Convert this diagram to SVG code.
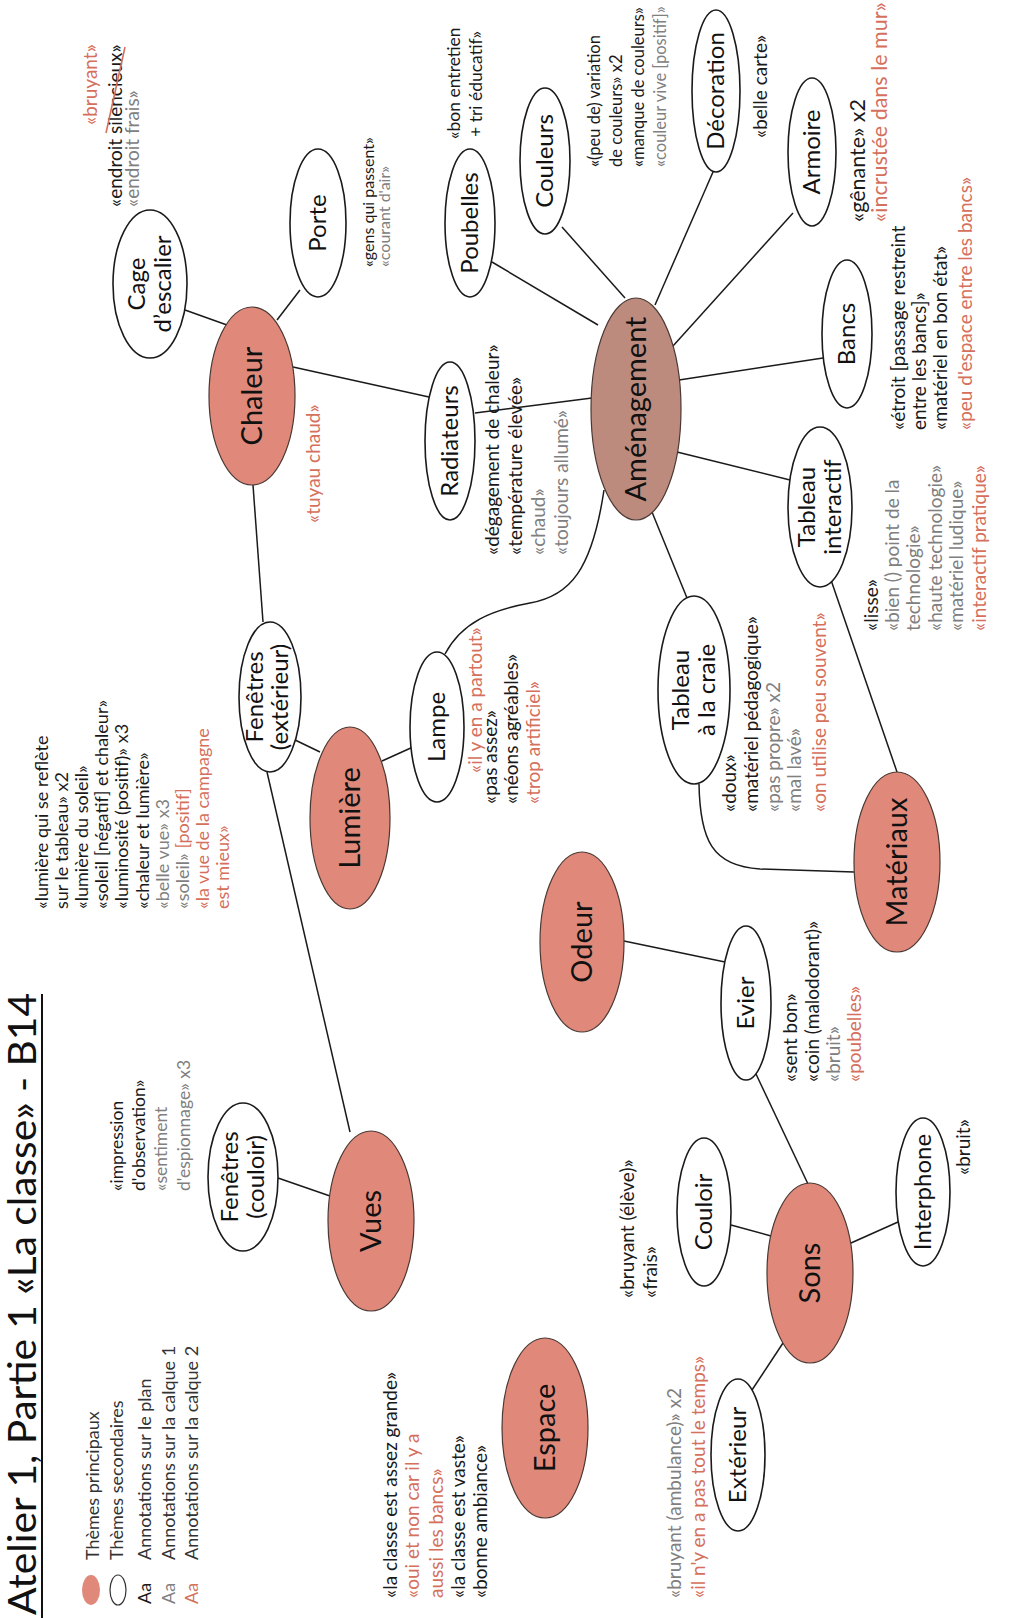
<svg xmlns="http://www.w3.org/2000/svg" width="1010" height="1618" viewBox="0 0 1010 1618">
<style>
text{font-family:Lato,'Open Sans','Liberation Sans',sans-serif}
.n{fill:#fff;stroke:#1a1a1a;stroke-width:1.6}
.m{fill:#e0897a;stroke:#4a3833;stroke-width:1.2}
.am{fill:#bd8b7e;stroke:#4a3833;stroke-width:1.2}
.nl{font-size:24px;fill:#111;text-anchor:middle}
.ml{font-size:29px;fill:#111;text-anchor:middle}
.a{font-size:19px}
.s16{font-size:16px}
.s165{font-size:16.5px}
.s17{font-size:17.5px}
.s18{font-size:18px}
.s21{font-size:21.5px}
.lg{font-size:18px;fill:#333}
.k{fill:#1a1a1a}
.g{fill:#808080}
.r{fill:#d5705c}
#connectors line,#connectors path{stroke:#1a1a1a;stroke-width:1.5;fill:none}
</style>
<rect width="1010" height="1618" fill="#fff"/>
<g transform="translate(0,1618) rotate(-90)">
  <g id="title">
    <text x="3" y="36" font-size="39" fill="#111" textLength="622" lengthAdjust="spacingAndGlyphs">Atelier 1, Partie 1 «La classe» - B14</text>
    <line x1="0" y1="42" x2="624" y2="42" stroke="#111" stroke-width="2"/>
  </g>
  <g id="legend">
    <ellipse cx="28" cy="91" rx="15" ry="9" fill="#e0897a"/>
    <ellipse cx="28" cy="118" rx="15" ry="8" fill="#fff" stroke="#333" stroke-width="1.2"/>
    <text class="lg k" x="14" y="151">Aa</text>
    <text class="lg g" x="14" y="175">Aa</text>
    <text class="lg r" x="14" y="198">Aa</text>
    <text class="lg" x="58" y="99">Thèmes principaux</text>
    <text class="lg" x="58" y="123">Thèmes secondaires</text>
    <text class="lg" x="58" y="151">Annotations sur le plan</text>
    <text class="lg" x="58" y="175">Annotations sur la calque 1</text>
    <text class="lg" x="58" y="198">Annotations sur la calque 2</text>
  </g>
  <g id="connectors">
    <line x1="1308" y1="185" x2="1293" y2="227"/>
    <line x1="1328" y1="300" x2="1298" y2="277"/>
    <line x1="1251" y1="293" x2="1221" y2="429"/>
    <line x1="1205" y1="475" x2="1220" y2="592"/>
    <line x1="1356" y1="492" x2="1293" y2="598"/>
    <line x1="1391" y1="562" x2="1320" y2="625"/>
    <line x1="1313" y1="655" x2="1446" y2="713"/>
    <line x1="1272" y1="673" x2="1405" y2="793"/>
    <line x1="1238" y1="679" x2="1260" y2="823"/>
    <line x1="1166" y1="677" x2="1138" y2="790"/>
    <line x1="1106" y1="652" x2="1020" y2="687"/>
    <path d="M964,445 C996,462 1008,492 1015,530 C1022,570 1048,592 1128,604"/>
    <line x1="857" y1="382" x2="871" y2="413"/>
    <line x1="879" y1="293" x2="866" y2="320"/>
    <line x1="1133" y1="253" x2="996" y2="263"/>
    <line x1="846" y1="267" x2="486" y2="350"/>
    <line x1="440" y1="278" x2="422" y2="330"/>
    <line x1="677" y1="624" x2="656" y2="725"/>
    <path d="M834,699 C778,700 752,712 749,760 L746,854"/>
    <line x1="1038" y1="831" x2="846" y2="897"/>
    <line x1="544" y1="756" x2="434" y2="808"/>
    <line x1="393" y1="731" x2="382" y2="771"/>
    <line x1="375" y1="851" x2="396" y2="898"/>
    <line x1="275" y1="783" x2="228" y2="752"/>
  </g>
  <g id="cage"><ellipse class="n" cx="1334" cy="150" rx="74" ry="37"/><text class="nl" x="1334" y="145">Cage</text><text class="nl" x="1334" y="171">d’escalier</text></g>
  <g id="porte"><ellipse class="n" cx="1395" cy="318" rx="74" ry="28"/><text class="nl" x="1395" y="326">Porte</text></g>
  <g id="chaleur"><ellipse class="m" cx="1222" cy="252" rx="89" ry="43"/><text class="ml" x="1222" y="262">Chaleur</text></g>
  <g id="radiateurs"><ellipse class="n" cx="1177" cy="450" rx="79" ry="25"/><text class="nl" x="1177" y="458">Radiateurs</text></g>
  <g id="poubelles"><ellipse class="n" cx="1395" cy="470" rx="74" ry="25"/><text class="nl" x="1395" y="478">Poubelles</text></g>
  <g id="couleurs"><ellipse class="n" cx="1457" cy="545" rx="73" ry="25"/><text class="nl" x="1457" y="553">Couleurs</text></g>
  <g id="amenagement"><ellipse class="am" cx="1209" cy="636" rx="111" ry="45"/><text class="ml" x="1209" y="646">Aménagement</text></g>
  <g id="decoration"><ellipse class="n" cx="1527" cy="716" rx="81" ry="24"/><text class="nl" x="1527" y="724">Décoration</text></g>
  <g id="armoire"><ellipse class="n" cx="1466" cy="812" rx="74" ry="24"/><text class="nl" x="1466" y="820">Armoire</text></g>
  <g id="bancs"><ellipse class="n" cx="1284" cy="847" rx="74" ry="25"/><text class="nl" x="1284" y="855">Bancs</text></g>
  <g id="tableau-interactif"><ellipse class="n" cx="1111" cy="820" rx="80" ry="32"/><text class="nl" x="1111" y="815">Tableau</text><text class="nl" x="1111" y="841">interactif</text></g>
  <g id="tableau-craie"><ellipse class="n" cx="928" cy="694" rx="94" ry="36"/><text class="nl" x="928" y="689">Tableau</text><text class="nl" x="928" y="715">à la craie</text></g>
  <g id="lampe"><ellipse class="n" cx="891" cy="437" rx="75" ry="27"/><text class="nl" x="891" y="445">Lampe</text></g>
  <g id="lumiere"><ellipse class="m" cx="800" cy="350" rx="91" ry="40"/><text class="ml" x="800" y="360">Lumière</text></g>
  <g id="fenetres-exterieur"><ellipse class="n" cx="921" cy="270" rx="75" ry="31"/><text class="nl" x="921" y="263">Fenêtres</text><text class="nl" x="921" y="288">(extérieur)</text></g>
  <g id="odeur"><ellipse class="m" cx="676" cy="582" rx="90" ry="42"/><text class="ml" x="676" y="592">Odeur</text></g>
  <g id="materiaux"><ellipse class="m" cx="756" cy="897" rx="90" ry="43"/><text class="ml" x="756" y="907">Matériaux</text></g>
  <g id="evier"><ellipse class="n" cx="615" cy="746" rx="77" ry="25"/><text class="nl" x="615" y="754">Evier</text></g>
  <g id="vues"><ellipse class="m" cx="397" cy="371" rx="90" ry="43"/><text class="ml" x="397" y="381">Vues</text></g>
  <g id="fenetres-couloir"><ellipse class="n" cx="441" cy="243" rx="74" ry="35"/><text class="nl" x="441" y="238">Fenêtres</text><text class="nl" x="441" y="264">(couloir)</text></g>
  <g id="espace"><ellipse class="m" cx="190" cy="545" rx="90" ry="43"/><text class="ml" x="190" y="555">Espace</text></g>
  <g id="sons"><ellipse class="m" cx="345" cy="810" rx="90" ry="43"/><text class="ml" x="345" y="820">Sons</text></g>
  <g id="couloir"><ellipse class="n" cx="406" cy="704" rx="74" ry="27"/><text class="nl" x="406" y="712">Couloir</text></g>
  <g id="interphone"><ellipse class="n" cx="426" cy="923" rx="74" ry="27"/><text class="nl" x="426" y="931">Interphone</text></g>
  <g id="exterieur"><ellipse class="n" cx="163" cy="738" rx="76" ry="27"/><text class="nl" x="163" y="746">Extérieur</text></g>
  <g id="annotations" class="a">
    <text class="a r" x="1493" y="97">«bruyant»</text>
    <text class="a k" x="1411" y="122">«endroit silencieux»</text>
    <text class="a g" x="1411" y="139">«endroit frais»</text>
    <line x1="1485" y1="106" x2="1571" y2="125" stroke="#d5705c" stroke-width="1.6"/>
    <text class="s16 k" x="1351" y="374">«gens qui passent»</text>
    <text class="s16 g" x="1351" y="390">«courant d'air»</text>
    <text class="a r" x="1095" y="320">«tuyau chaud»</text>
    <text class="s17 k" x="1479" y="460">«bon entretien</text>
    <text class="s17 k" x="1481" y="482">+ tri éducatif»</text>
    <text class="s165 k" x="1451" y="600">«(peu de) variation</text>
    <text class="s165 k" x="1451" y="622">de couleurs» x2</text>
    <text class="s165 k" x="1451" y="644">«manque de couleurs»</text>
    <text class="s165 g" x="1451" y="666">«couleur vive [positif]»</text>
    <text class="a k" x="1480" y="767">«belle carte»</text>
    <text class="s21 k" x="1396" y="865">«gênante» x2</text>
    <text class="s21 r" x="1396" y="887">«incrustée dans le mur»</text>
    <text class="a k" x="1188" y="905">«étroit [passage restreint</text>
    <text class="a k" x="1188" y="926">entre les bancs]»</text>
    <text class="a k" x="1188" y="947">«matériel en bon état»</text>
    <text class="a r" x="1188" y="972">«peu d'espace entre les bancs»</text>
    <text class="a k" x="987" y="878">«lisse»</text>
    <text class="a g" x="987" y="899">«bien () point de la</text>
    <text class="a g" x="987" y="920">technologie»</text>
    <text class="a g" x="987" y="942">«haute technologie»</text>
    <text class="a g" x="987" y="963">«matériel ludique»</text>
    <text class="a r" x="987" y="986">«interactif pratique»</text>
    <text class="a k" x="1063" y="499">«dégagement de chaleur»</text>
    <text class="a k" x="1063" y="522">«température élevée»</text>
    <text class="a g" x="1063" y="545">«chaud»</text>
    <text class="a g" x="1063" y="568">«toujours allumé»</text>
    <text class="a r" x="845" y="482">«il y en a partout»</text>
    <text class="a k" x="814" y="497">«pas assez»</text>
    <text class="a k" x="814" y="518">«néons agréables»</text>
    <text class="a r" x="814" y="540">«trop artificiel»</text>
    <text class="s18 k" x="709" y="48">«lumière qui se reflète</text>
    <text class="s18 k" x="709" y="68">sur le tableau» x2</text>
    <text class="s18 k" x="709" y="88">«lumière du soleil»</text>
    <text class="s18 k" x="709" y="108">«soleil [négatif] et chaleur»</text>
    <text class="s18 k" x="709" y="128">«luminosité (positif)» x3</text>
    <text class="s18 k" x="709" y="149">«chaleur et lumière»</text>
    <text class="s18 g" x="709" y="169">«belle vue» x3</text>
    <text class="s18" x="709" y="189"><tspan class="g">«soleil»</tspan><tspan class="r"> [positif]</tspan></text>
    <text class="s18 r" x="709" y="209">«la vue de la campagne</text>
    <text class="s18 r" x="709" y="229">est mieux»</text>
    <text class="a k" x="806" y="736">«doux»</text>
    <text class="a k" x="806" y="758">«matériel pédagogique»</text>
    <text class="a g" x="806" y="780">«pas propre» x2</text>
    <text class="a g" x="806" y="801">«mal lavé»</text>
    <text class="a r" x="806" y="826">«on utilise peu souvent»</text>
    <text class="a k" x="536" y="797">«sent bon»</text>
    <text class="a k" x="536" y="819">«coin (malodorant)»</text>
    <text class="a g" x="536" y="840">«bruit»</text>
    <text class="a r" x="536" y="861">«poubelles»</text>
    <text class="s17 k" x="427" y="123">«impression</text>
    <text class="s17 k" x="427" y="145">d'observation»</text>
    <text class="s17 g" x="427" y="167">«sentiment</text>
    <text class="s17 g" x="427" y="190">d'espionnage» x3</text>
    <text class="a k" x="20" y="397">«la classe est assez grande»</text>
    <text class="a r" x="20" y="419">«oui et non car il y a</text>
    <text class="a r" x="20" y="443">aussi les bancs»</text>
    <text class="a k" x="20" y="465">«la classe est vaste»</text>
    <text class="a k" x="20" y="487">«bonne ambiance»</text>
    <text class="a k" x="320" y="634">«bruyant (élève)»</text>
    <text class="a k" x="320" y="657">«frais»</text>
    <text class="a g" x="20" y="681">«bruyant (ambulance)» x2</text>
    <text class="a r" x="20" y="705">«il n'y en a pas tout le temps»</text>
    <text class="a k" x="443" y="970">«bruit»</text>
  </g>
</g>
</svg>
